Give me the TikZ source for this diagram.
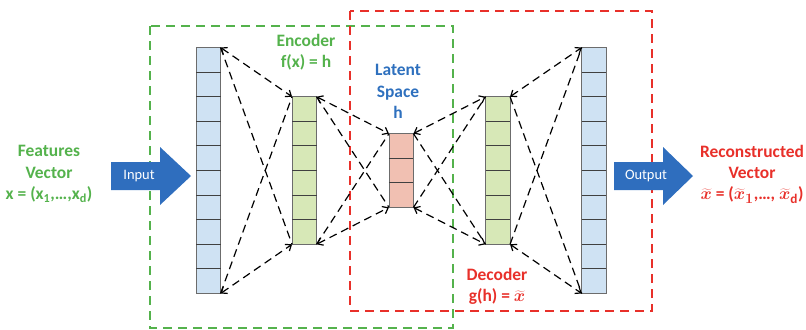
\documentclass[tikz,border=0pt]{standalone}
\usepackage{fontspec}
\setmainfont{Carlito}
\usetikzlibrary{arrows.meta}

\definecolor{featgreen}{RGB}{84,178,76}
\definecolor{recred}{RGB}{232,48,42}
\definecolor{latblue}{RGB}{46,112,190}
\definecolor{arrowblue}{RGB}{47,110,190}
\definecolor{cellblue}{RGB}{207,226,243}
\definecolor{cellgreen}{RGB}{215,232,183}
\definecolor{cellred}{RGB}{241,192,178}

% reconstructed vector symbol, set a little larger than the text
\newcommand{\tx}{{\fontsize{19}{21.5}\selectfont\boldmath$\widetilde{x}$}}
\newcommand{\txsub}[1]{{\fontsize{19}{21.5}\selectfont\boldmath$\widetilde{x}_{#1}$}}

% layers: name, x position, number of cells, cells minus one, fill
\newcommand{\netlayer}[5]{%
  \node[layer, fill=#5, minimum height=#3*24.6bp] (#1) at (#2,170.5) {};
  \foreach \k in {1,...,#4}
    \draw[cellsep] ([yshift=-\k*24.6bp]#1.north west) -- ([yshift=-\k*24.6bp]#1.north east);
}

\begin{document}
\begin{tikzpicture}[x=1bp,y=-1bp,
  layer/.style={draw=gray!85!black, line width=0.8bp, minimum width=24.5bp,
                inner sep=0pt, outer sep=0pt},
  cellsep/.style={draw=black!75, line width=0.9bp},
  conn/.style={dash pattern=on 8bp off 5bp, line width=1.2bp},
  biarrow/.style={conn, {Straight Barb[length=5bp,width=8bp]}-{Straight Barb[length=5bp,width=8bp]}},
  lbl/.style={font=\fontsize{17.5}{21.5}\selectfont\bfseries, align=center},
  region/.style={dash pattern=on 9bp off 6bp, line width=1.9bp},
  ioarrow/.style={fill=arrowblue},
  iotext/.style={text=white, font=\fontsize{14.5}{16}\selectfont}
]
\useasboundingbox (0,0) rectangle (806,329);

% encoder and decoder regions
\draw[region, featgreen] (150,26) rectangle (453,328);
\draw[region, recred] (350,11) rectangle (652,311);

\netlayer{inL}{208.3}{10}{9}{cellblue}
\netlayer{enc}{304.3}{6}{5}{cellgreen}
\netlayer{lat}{401.2}{3}{2}{cellred}
\netlayer{dec}{497.8}{6}{5}{cellgreen}
\netlayer{outR}{594}{10}{9}{cellblue}

% dashed connections between neighbouring layers
\foreach \a/\b in {inL/enc, enc/lat, lat/dec, dec/outR} {
  \draw[biarrow] (\a.north east) -- (\b.north west);
  \draw[biarrow] (\a.south east) -- (\b.south west);
  \draw[conn] (\a.north east) -- (\b.south west);
  \draw[conn] (\a.south east) -- (\b.north west);
}

% input and output block arrows
\fill[ioarrow] (111,162) -- (160,162) -- (160,147) -- (191,176) -- (160,205)
  -- (160,190) -- (111,190) -- cycle;
\node[iotext] (intext) at (139,176) {Input};
\fill[ioarrow] (614,162) -- (663,162) -- (663,147) -- (693,176) -- (663,205)
  -- (663,190) -- (614,190) -- cycle;
\node[iotext] (outtext) at (646,176) {Output};

% labels
\node[lbl, text=featgreen] (feat) at (49,174)
  {Features\\Vector\\x = (x\textsubscript{1},…,x\textsubscript{d})};
\node[lbl, text=featgreen] (enctxt) at (306,52) {Encoder\\f(x) = h};
\node[lbl, text=latblue] (lattxt) at (398,91.5) {Latent\\Space\\h};
\node[lbl, text=recred] (dectxt) at (497,286.5) {Decoder\\g(h) = \tx};
\node[lbl, text=recred] (rectxt) at (752,174)
  {Reconstructed\\Vector\\\tx{} = (\txsub{1},…, \txsub{\mathrm{d}})};
\end{tikzpicture}
\end{document}
